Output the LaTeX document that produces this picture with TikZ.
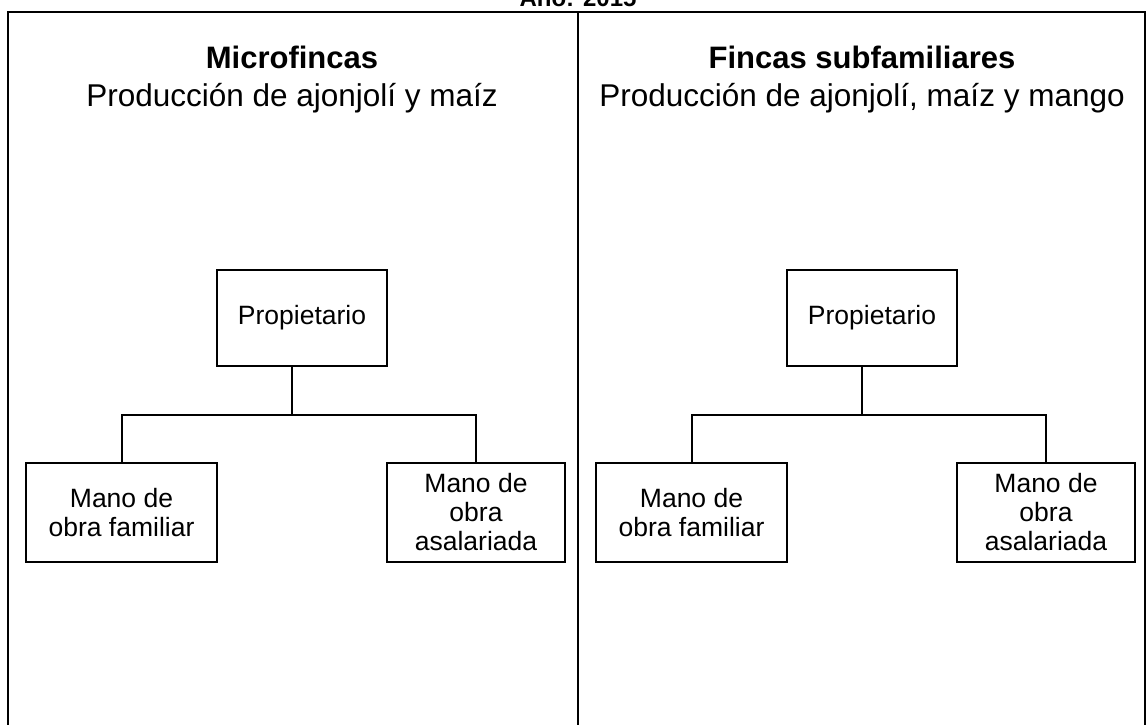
\documentclass[tikz,border=0pt]{standalone}
\usepackage{fontspec}
\setmainfont{Liberation Sans}
\begin{document}
\begin{tikzpicture}[x=1pt,y=-1pt,line width=2pt,
  box/.style={draw, line width=2pt, inner sep=0pt, align=center,
              font=\fontsize{26.5}{29}\selectfont},
  headtxt/.style={anchor=base, font=\bfseries\fontsize{31}{36}\selectfont},
  subtxt/.style={anchor=base, font=\fontsize{31.5}{36}\selectfont},
  conn/.style={draw, line width=2pt}]
\useasboundingbox (0,0) rectangle (1148,725);
% frame
\draw (8,745) -- (8,12) -- (1145,12) -- (1145,745);
\draw (578,12) -- (578,745);
\node[anchor=base, font=\bfseries\fontsize{24}{28}\selectfont] (title) at (578,7) {Año: 2015};
% left panel
\node[headtxt] (h1) at (292,68) {Microfincas};
\node[subtxt] (s1) at (292,106) {Producción de ajonjolí y maíz};
\node[box, minimum width=170pt, minimum height=96pt] (p1) at (302,318) {Propietario};
\node[box, minimum width=191pt, minimum height=99pt] (f1) at (121.5,512.5) {Mano de\\obra familiar};
\node[box, minimum width=178pt, minimum height=99pt] (a1) at (476,512.5) {Mano de\\obra\\asalariada};
\coordinate (j1) at (292,415);
\draw[conn] (j1) -- (j1 |- p1.south);
\draw[conn] (f1.north) |- (j1) -| (a1.north);
% right panel
\node[headtxt] (h2) at (862,68) {Fincas subfamiliares};
\node[subtxt] (s2) at (862,106) {Producción de ajonjolí, maíz y mango};
\node[box, minimum width=170pt, minimum height=96pt] (p2) at (872,318) {Propietario};
\node[box, minimum width=191pt, minimum height=99pt] (f2) at (691.5,512.5) {Mano de\\obra familiar};
\node[box, minimum width=178pt, minimum height=99pt] (a2) at (1046,512.5) {Mano de\\obra\\asalariada};
\coordinate (j2) at (862,415);
\draw[conn] (j2) -- (j2 |- p2.south);
\draw[conn] (f2.north) |- (j2) -| (a2.north);
\end{tikzpicture}
\end{document}
